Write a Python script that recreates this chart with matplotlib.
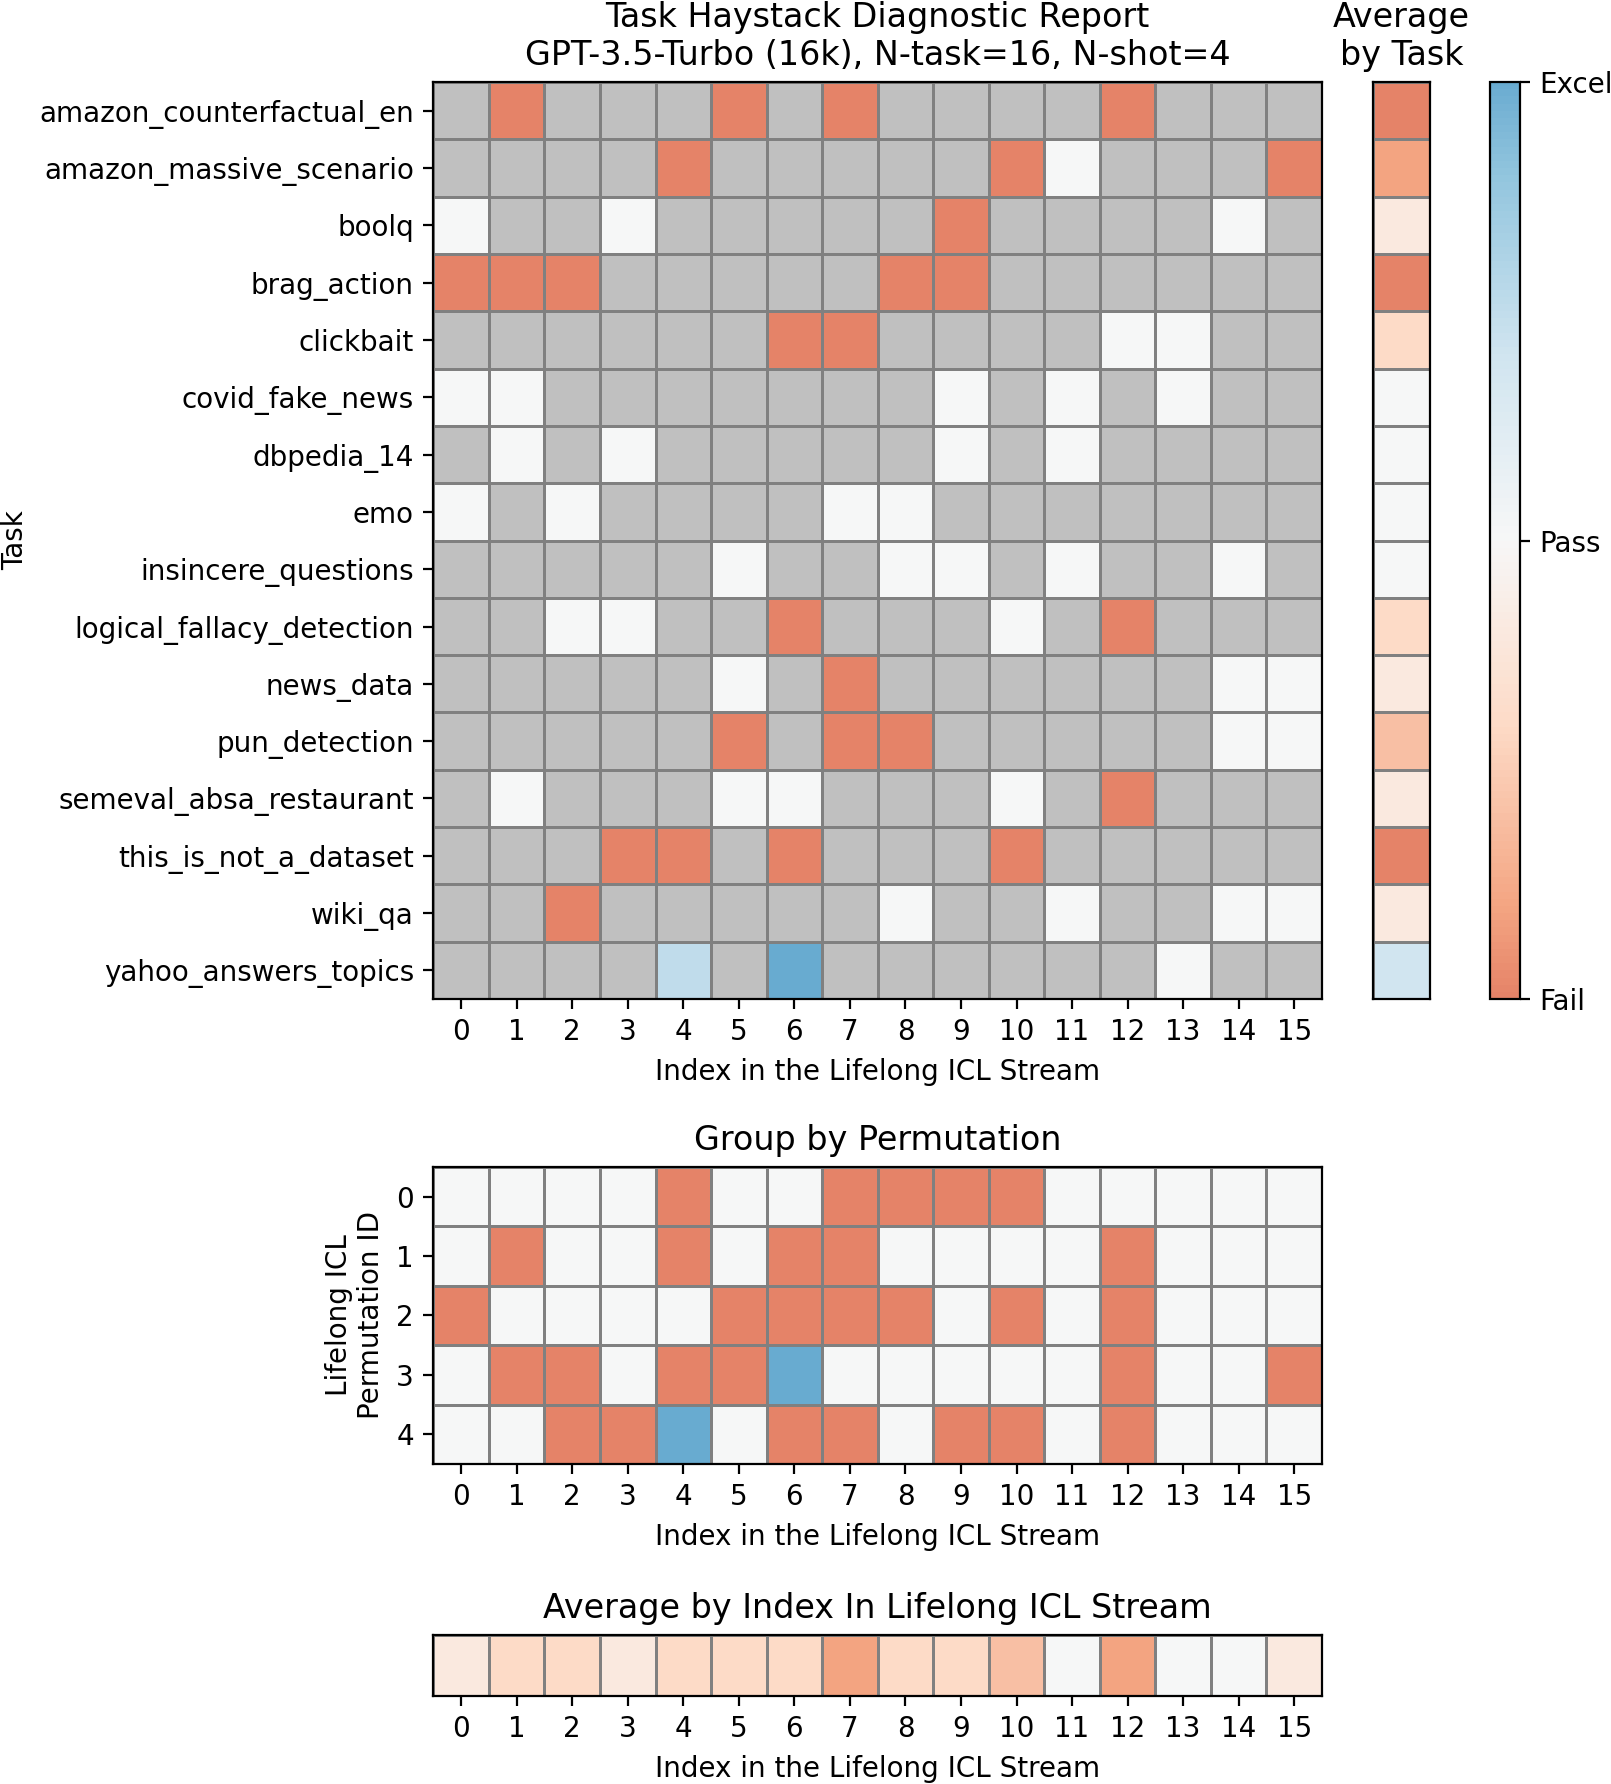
import numpy as np
import matplotlib
matplotlib.use("Agg")
import matplotlib.pyplot as plt
from matplotlib.colors import LinearSegmentedColormap

n = np.nan
F, P, E = -1, 0, 1

tasks = [
    "amazon_counterfactual_en", "amazon_massive_scenario", "boolq", "brag_action",
    "clickbait", "covid_fake_news", "dbpedia_14", "emo", "insincere_questions",
    "logical_fallacy_detection", "news_data", "pun_detection",
    "semeval_absa_restaurant", "this_is_not_a_dataset", "wiki_qa",
    "yahoo_answers_topics",
]
indices = list(range(16))
perm_ids = list(range(5))

# task x index scores (nan = task not at that index)
task_scores = [
    [n, F, n, n, n, F, n, F, n, n, n, n, F, n, n, n],
    [n, n, n, n, F, n, n, n, n, n, F, P, n, n, n, F],
    [P, n, n, P, n, n, n, n, n, F, n, n, n, n, P, n],
    [F, F, F, n, n, n, n, n, F, F, n, n, n, n, n, n],
    [n, n, n, n, n, n, F, F, n, n, n, n, P, P, n, n],
    [P, P, n, n, n, n, n, n, n, P, n, P, n, P, n, n],
    [n, P, n, P, n, n, n, n, n, P, n, P, n, n, n, n],
    [P, n, P, n, n, n, n, P, P, n, n, n, n, n, n, n],
    [n, n, n, n, n, P, n, n, P, P, n, P, n, n, P, n],
    [n, n, P, P, n, n, F, n, n, n, P, n, F, n, n, n],
    [n, n, n, n, n, P, n, F, n, n, n, n, n, n, P, P],
    [n, n, n, n, n, F, n, F, F, n, n, n, n, n, P, P],
    [n, P, n, n, n, P, P, n, n, n, P, n, F, n, n, n],
    [n, n, n, F, F, n, F, n, n, n, F, n, n, n, n, n],
    [n, n, F, n, n, n, n, n, P, n, n, P, n, n, P, P],
    [n, n, n, n, 0.5, n, E, n, n, n, n, n, n, P, n, n],
]
task_avg = [-1.0, -0.8, -0.2, -1.0, -0.4, 0.0, 0.0, 0.0, 0.0, -0.4,
            -0.2, -0.6, -0.2, -1.0, -0.2, 0.4]

# permutation x index scores
perm_scores = [
    [P, P, P, P, F, P, P, F, F, F, F, P, P, P, P, P],
    [P, F, P, P, F, P, F, F, P, P, P, P, F, P, P, P],
    [F, P, P, P, P, F, F, F, F, P, F, P, F, P, P, P],
    [P, F, F, P, F, F, E, P, P, P, P, P, F, P, P, F],
    [P, P, F, F, E, P, F, F, P, F, F, P, F, P, P, P],
]
index_avg = [-0.2, -0.4, -0.4, -0.2, -0.4, -0.4, -0.4, -0.8, -0.4, -0.4,
             -0.6, 0.0, -0.8, 0.0, 0.0, -0.2]

base = plt.get_cmap("RdBu")
cmap = LinearSegmentedColormap.from_list("rdbu_mid", base(np.linspace(0.25, 0.75, 256)))
cmap.set_bad("silver")

plt.rcParams["font.size"] = 10

fig = plt.figure(figsize=(8.055, 8.92), dpi=200)


def heat(ax, data):
    arr = np.ma.masked_invalid(np.array(data, dtype=float))
    m = ax.pcolormesh(arr, cmap=cmap, vmin=-1, vmax=1,
                      edgecolors="gray", linewidth=1)
    ax.set_xlim(0, arr.shape[1])
    ax.set_ylim(arr.shape[0], 0)
    return m


# main heatmap
ax_main = fig.add_axes([0.269, 0.440, 0.5516, 0.514])
mesh = heat(ax_main, task_scores)
ax_main.set_xticks(np.arange(16) + 0.5)
ax_main.set_xticklabels(indices)
ax_main.set_yticks(np.arange(len(tasks)) + 0.5)
ax_main.set_yticklabels(tasks)
ax_main.set_xlabel("Index in the Lifelong ICL Stream")
ax_main.set_ylabel("Task")
ax_main.yaxis.set_label_coords(-0.455, 0.5)
ax_main.set_title("Task Haystack Diagnostic Report\nGPT-3.5-Turbo (16k), N-task=16, N-shot=4",
                  fontsize=12)

# average by task
ax_tavg = fig.add_axes([0.8523, 0.440, 0.0354, 0.514])
heat(ax_tavg, [[v] for v in task_avg])
ax_tavg.set_xticks([])
ax_tavg.set_yticks([])
ax_tavg.set_title("Average\nby Task", fontsize=12)

# colorbar
ax_cb = fig.add_axes([0.925, 0.440, 0.0186, 0.514])
cb = fig.colorbar(mesh, cax=ax_cb, ticks=[-1, 0, 1])
cb.ax.set_yticklabels(["Fail", "Pass", "Excel"])
cb.outline.set_linewidth(0.8)

# group by permutation
ax_perm = fig.add_axes([0.269, 0.1794, 0.5516, 0.1665])
heat(ax_perm, perm_scores)
ax_perm.set_xticks(np.arange(16) + 0.5)
ax_perm.set_xticklabels(indices)
ax_perm.set_yticks(np.arange(len(perm_ids)) + 0.5)
ax_perm.set_yticklabels(perm_ids)
ax_perm.set_xlabel("Index in the Lifelong ICL Stream")
ax_perm.set_ylabel("Lifelong ICL\nPermutation ID")
ax_perm.set_title("Group by Permutation", fontsize=12)

# average by index
ax_iavg = fig.add_axes([0.269, 0.0493, 0.5516, 0.0342])
heat(ax_iavg, [index_avg])
ax_iavg.set_xticks(np.arange(16) + 0.5)
ax_iavg.set_xticklabels(indices)
ax_iavg.set_yticks([])
ax_iavg.set_xlabel("Index in the Lifelong ICL Stream")
ax_iavg.set_title("Average by Index In Lifelong ICL Stream", fontsize=12)

fig.savefig("out.png", dpi=200)
